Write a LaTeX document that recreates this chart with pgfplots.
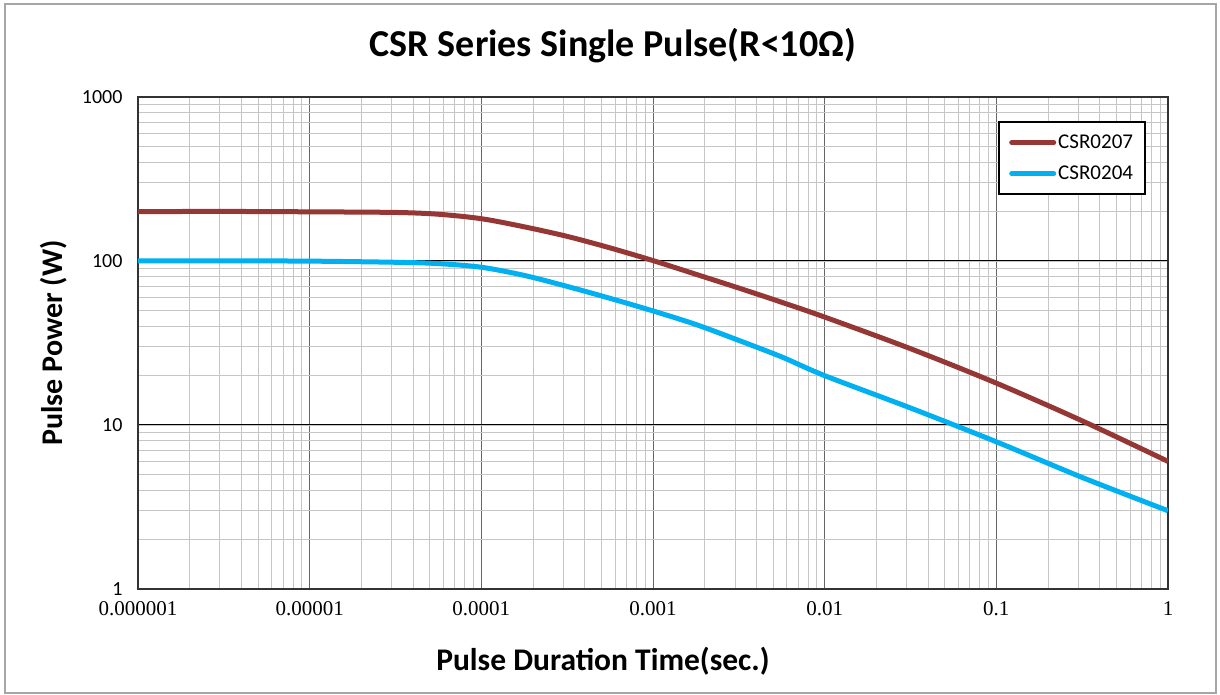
\documentclass[border=0pt]{standalone}
\usepackage{pgfplots}
\pgfplotsset{compat=1.18}
\usepackage{fontspec}
\setmainfont{Carlito}
\newfontfamily\serifx{Liberation Serif}
\definecolor{cbrown}{HTML}{953735}
\definecolor{cblue}{HTML}{00B0F0}
\begin{document}
\begin{tikzpicture}[x=1pt,y=1pt]
\useasboundingbox (0,0) rectangle (1220,695);
\draw[gray!70,line width=1.2pt] (5,2) rectangle (1216,691);
\node[font=\fontsize{38}{44}\selectfont\bfseries] at (613,649) {CSR Series Single Pulse(R<10Ω)};
\begin{axis}[
  at={(138pt,106pt)}, anchor=south west,
  width=1030pt, height=492pt, scale only axis,
  xmode=log, ymode=log,
  xmin=1e-6, xmax=1, ymin=1, ymax=1000,
  xtick={1e-6,1e-5,1e-4,1e-3,1e-2,1e-1,1},
  xticklabels={0.000001,0.00001,0.0001,0.001,0.01,0.1,1},
  ytick={1,10,100,1000},
  yticklabels={1,10,100,1000},
  x tick label style={font=\serifx\fontsize{21}{24}\selectfont, yshift=-9pt},
  y tick label style={font=\fontsize{20}{23}\selectfont, xshift=-12pt, yshift=0pt},
  major tick length=0pt, minor tick length=0pt,
  grid=both,
  minor x grid style={gray!45, line width=0.8pt},
  minor y grid style={gray!45, line width=0.8pt},
  major x grid style={gray!80!black, line width=0.9pt},
  major y grid style={black, line width=1pt},
  axis line style={draw=gray!40!black, line width=1.2pt},
  xlabel={\bfseries Pulse Duration Time(sec.)},
  ylabel={\bfseries Pulse Power (W)},
  xlabel style={font=\fontsize{31.5}{36}\selectfont, yshift=-24pt, xshift=-50pt},
  ylabel style={font=\fontsize{30}{34}\selectfont, yshift=8pt},
  legend style={at={(0.9786,0.951)}, anchor=north east, draw=black, line width=1.8pt,
    font=\fontsize{21}{25}\selectfont, inner xsep=10pt, inner ysep=11pt, row sep=12pt,
    fill=white},
  legend cell align=left,
  legend image code/.code={\draw[#1, line width=5pt, line cap=round] (0pt,0pt) -- (42pt,0pt);},
]
\addplot[cbrown, line width=5pt, smooth] coordinates {
(1e-6,200) (3.162e-6,200.5) (1e-5,199.5) (3.162e-5,197.7) (5.623e-5,192.8) (1e-4,181.1)
(1.778e-4,161.6) (3.162e-4,141.3) (5.623e-4,120.2) (1e-3,100.6) (1.778e-3,83.0) (3.162e-3,68.4)
(5.623e-3,56.0) (1e-2,45.5) (3.162e-2,29.2) (1e-1,18.0) (3.162e-1,10.6) (1,6.0)};
\addlegendentry{CSR0207}
\addplot[cblue, line width=5pt, smooth] coordinates {
(1e-6,100) (3.162e-6,100.2) (1e-5,99.8) (3.162e-5,98.2) (5.623e-5,96.4) (1e-4,91.6)
(1.778e-4,81.7) (3.162e-4,70.0) (5.623e-4,59.2) (1e-3,49.6) (1.778e-3,41.0) (3.162e-3,32.8)
(5.623e-3,26.0) (1e-2,20.0) (3.162e-2,12.7) (1e-1,7.9) (3.162e-1,4.79) (1,3.0)};
\addlegendentry{CSR0204}
\end{axis}
\end{tikzpicture}
\end{document}
